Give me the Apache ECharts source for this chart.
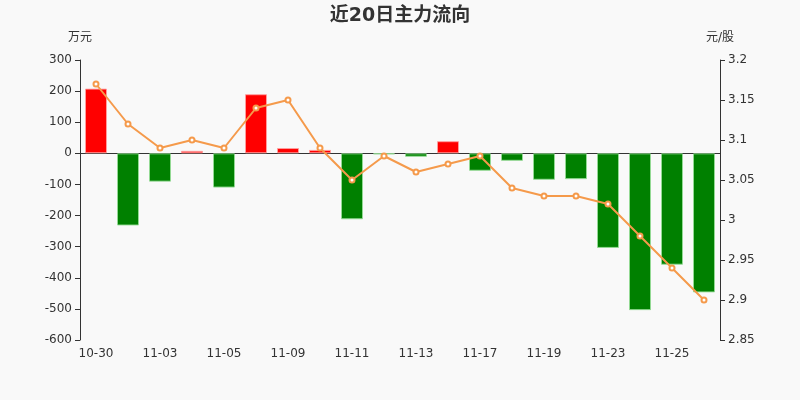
<!DOCTYPE html>
<html>
<head>
<meta charset="utf-8">
<script src="https://cdn.jsdelivr.net/npm/echarts@6/dist/echarts.min.js"></script>
<style>
  html, body { margin: 0; padding: 0; background: #f9f9f9; }
  #chart { width: 800px; height: 400px; }
</style>
</head>
<body>
<div id="chart"></div>
<script>
const dates = [
  "10-30", "10-31", "11-03", "11-04", "11-05", "11-06", "11-09", "11-10", "11-11", "11-12",
  "11-13", "11-16", "11-17", "11-18", "11-19", "11-20", "11-23", "11-24", "11-25", "11-26",
]
// main net inflow, 万元
const flow = [208, -232, -91, 8, -110, 190, 17, 11, -212, -3, -11, 39, -56, -24, -85, -83, -304, -504, -358, -447]
// close price, 元/股
const price = [3.17, 3.12, 3.09, 3.10, 3.09, 3.14, 3.15, 3.09, 3.05, 3.08, 3.06, 3.07, 3.08, 3.04, 3.03, 3.03, 3.02, 2.98, 2.94, 2.90]

const chart = echarts.init(document.getElementById("chart"))

const textColor = "#333"
const font = "DejaVu Sans, sans-serif"
const cjk = "DejaVu Sans, Noto Sans CJK SC, sans-serif"

const option = {
  backgroundColor: "#f9f9f9",
  animation: false,
  title: {
    text: "近20日主力流向",
    left: "center",
    top: 2,
    textStyle: { fontSize: 19, fontWeight: "bold", color: textColor, fontFamily: cjk },
  },
  grid: { left: 80, right: 80, top: 60, bottom: 60 },
  xAxis: [
    {
      type: "category",
      data: dates,
      axisLine: { onZero: true, lineStyle: { color: textColor } },
      axisTick: { interval: 1, length: 5 },
      axisLabel: { show: false },
    },
    {
      type: "category",
      data: dates,
      position: "bottom",
      axisLine: { show: false, onZero: false },
      axisTick: { show: false },
      axisLabel: { interval: 1, color: textColor, fontSize: 12, fontFamily: font, margin: 8 },
    },
  ],
  yAxis: [
    {
      type: "value",
      name: "万元",
      nameGap: 16,
      nameTextStyle: { color: textColor, fontSize: 12, fontFamily: cjk, align: "center" },
      min: -600,
      max: 300,
      interval: 100,
      splitLine: { show: false },
      axisLine: { show: true, lineStyle: { color: textColor } },
      axisTick: { show: true, length: 5 },
      axisLabel: { color: textColor, fontSize: 12, fontFamily: font },
    },
    {
      type: "value",
      name: "元/股",
      nameGap: 16,
      nameTextStyle: { color: textColor, fontSize: 12, fontFamily: cjk, align: "center" },
      min: 2.85,
      max: 3.2,
      interval: 0.05,
      splitLine: { show: false },
      axisLine: { show: true, lineStyle: { color: textColor } },
      axisTick: { show: true, length: 5 },
      axisLabel: { color: textColor, fontSize: 12, fontFamily: font },
    },
  ],
  series: [
    {
      name: "主力流向",
      type: "bar",
      barWidth: 22,
      data: flow.map((v) => ({
        value: v,
        itemStyle: v >= 0
          ? { color: "#ff0000", borderColor: "rgba(255,160,160,0.9)", borderWidth: 1 }
          : { color: "#008000", borderColor: "rgba(150,220,150,0.9)", borderWidth: 1 },
      })),
    },
    {
      name: "股价",
      type: "line",
      yAxisIndex: 1,
      data: price,
      symbol: "emptyCircle",
      symbolSize: 5,
      lineStyle: { color: "#f59a4b", width: 2 },
      itemStyle: { color: "#f59a4b", borderColor: "#f59a4b", borderWidth: 1 },
    },
  ],
}

chart.setOption(option)
</script>
</body>
</html>
